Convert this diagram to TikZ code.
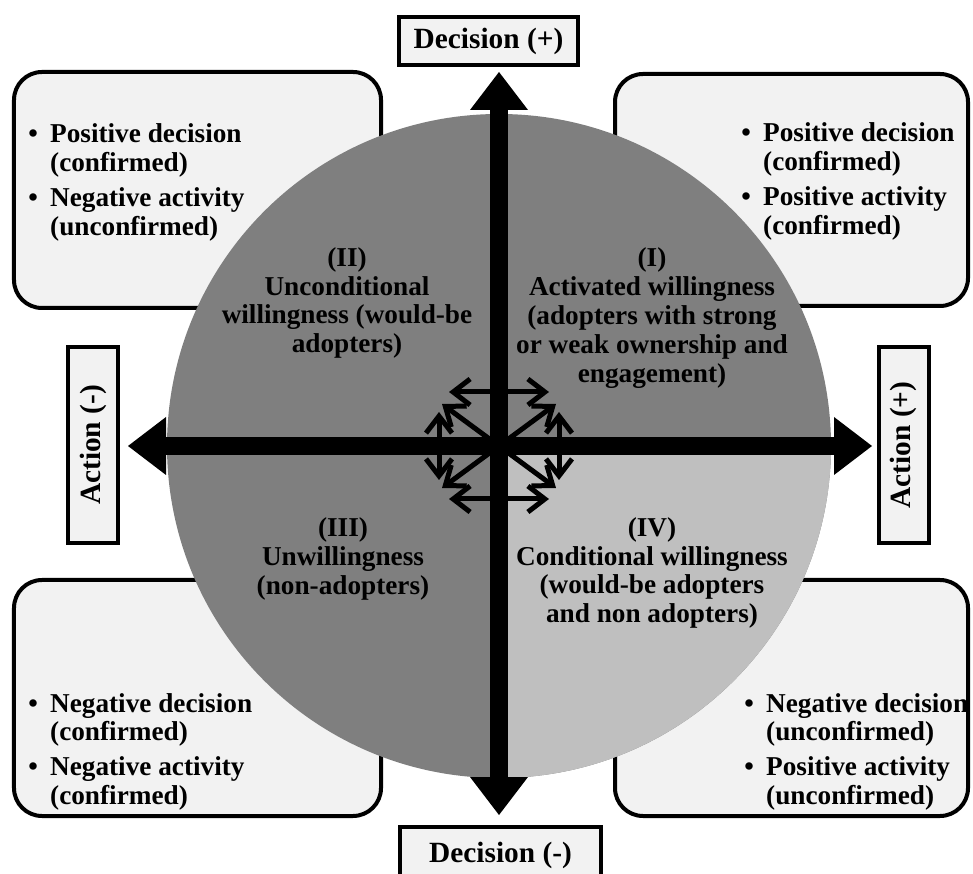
\documentclass[tikz,border=0pt]{standalone}
\usepackage{fontspec}
\setmainfont{Liberation Serif}
\usetikzlibrary{arrows.meta,calc}
\definecolor{quad}{HTML}{7F7F7F}
\definecolor{quadl}{HTML}{BFBFBF}
\definecolor{feld}{HTML}{F2F2F2}
\newcommand{\txt}{\fontsize{15.5}{16.4}\selectfont\bfseries}
\newcommand{\axtxt}{\fontsize{16.7}{18}\selectfont\bfseries}
\newcommand{\punkte}[4]{\begin{tabular}[t]{@{}l@{\hspace{7pt}}l@{}}\textbullet&#1\\&#2\\[3.4pt]\textbullet&#3\\&#4\end{tabular}}
\tikzset{
  achse/.style={{Triangle[length=7.6mm,width=11.6mm,line width=0pt]}-{Triangle[length=7.6mm,width=11.6mm,line width=0pt]},line width=3.6mm},
  pfeil/.style={{Straight Barb[length=3.4mm,width=5.2mm]}-{Straight Barb[length=3.4mm,width=5.2mm]},line width=1mm},
  pfeilr/.style={-{Straight Barb[length=3.4mm,width=5.2mm]},line width=1mm},
  ecke/.style={draw,fill=feld,line width=0.8mm,rounded corners=5.6mm,inner sep=0pt},
  schild/.style={draw,fill=feld,line width=0.8mm,inner sep=0pt,font=\axtxt},
  liste/.style={inner sep=0pt,anchor=base west,font=\txt},
  feldtxt/.style={align=center,font=\txt,inner sep=0pt},
}
\begin{document}
\begin{tikzpicture}[x=0.2mm,y=0.2mm]
  \useasboundingbox (0,0) rectangle (973,873);
  \coordinate (C) at (499,427);
  % Felder in den Ecken
  \node[ecke,minimum width=73.4mm,minimum height=47.2mm] (ul) at (197.5,683) {};
  \node[ecke,minimum width=70.6mm,minimum height=46.4mm] (ur) at (791.5,683) {};
  \node[ecke,minimum width=73.4mm,minimum height=47.2mm] (ll) at (197.5,175) {};
  \node[ecke,minimum width=70.6mm,minimum height=47.2mm] (lr) at (791.5,175) {};
  % Kreis
  \fill[quad] (C) circle (66.4mm);
  \fill[quadl] (C) -- ++(0:66.4mm) arc (0:-90:66.4mm) -- cycle;
  % Achsen
  \coordinate (vo) at (499,801);
  \coordinate (vu) at (499,58);
  \coordinate (hl) at (128,427);
  \coordinate (hr) at (872,427);
  \draw[achse] (vu) -- (vo);
  \draw[achse] (hl) -- (hr);
  % kleine Pfeile
  \begin{scope}[shift={(C)}]
    \draw[pfeil] (-50,54) -- (50,54);
    \draw[pfeil] (-50,-53) -- (50,-53);
    \draw[pfeil] (-60,34) -- (-60,-34);
    \draw[pfeil] (60,34) -- (60,-34);
    \foreach \dx/\dy in {-57/42,57/42,-57/-42,57/-42}
      \draw[pfeilr] (0,0) -- (\dx,\dy);
  \end{scope}
  % Schilder
  \node[schild,minimum width=35.8mm,minimum height=9.6mm] (decp) at (488.5,832) {Decision (+)};
  \node[schild,minimum width=40.2mm,minimum height=11.2mm] (decm) at (500.5,18) {Decision (-)};
  \node[schild,rotate=90,minimum width=39.2mm,minimum height=10mm] (actm) at (93,428) {Action (-)};
  \node[schild,rotate=90,minimum width=39.2mm,minimum height=10mm] (actp) at (903.5,428) {Action (+)};
  % Listen
  \node[liste] (tul) at (28,730) {\punkte{Positive decision}{(confirmed)}{Negative activity}{(unconfirmed)}};
  \node[liste] (tur) at (741,731) {\punkte{Positive decision}{(confirmed)}{Positive activity}{(confirmed)}};
  \node[liste] (tll) at (28,161) {\punkte{Negative decision}{(confirmed)}{Negative activity}{(confirmed)}};
  \node[liste] (tlr) at (744,161) {\punkte{Negative decision}{(unconfirmed)}{Positive activity}{(unconfirmed)}};
  % Quadranten
  \node[feldtxt] (q1) at (652,555) {(I)\\Activated willingness\\(adopters with strong\\or weak ownership and\\engagement)};
  \node[feldtxt] (q2) at (347,570) {(II)\\Unconditional\\willingness (would-be\\adopters)};
  \node[feldtxt] (q3) at (343,314) {(III)\\Unwillingness\\(non-adopters)};
  \node[feldtxt] (q4) at (652,300) {(IV)\\Conditional willingness\\(would-be adopters\\and non adopters)};
\end{tikzpicture}
\end{document}
